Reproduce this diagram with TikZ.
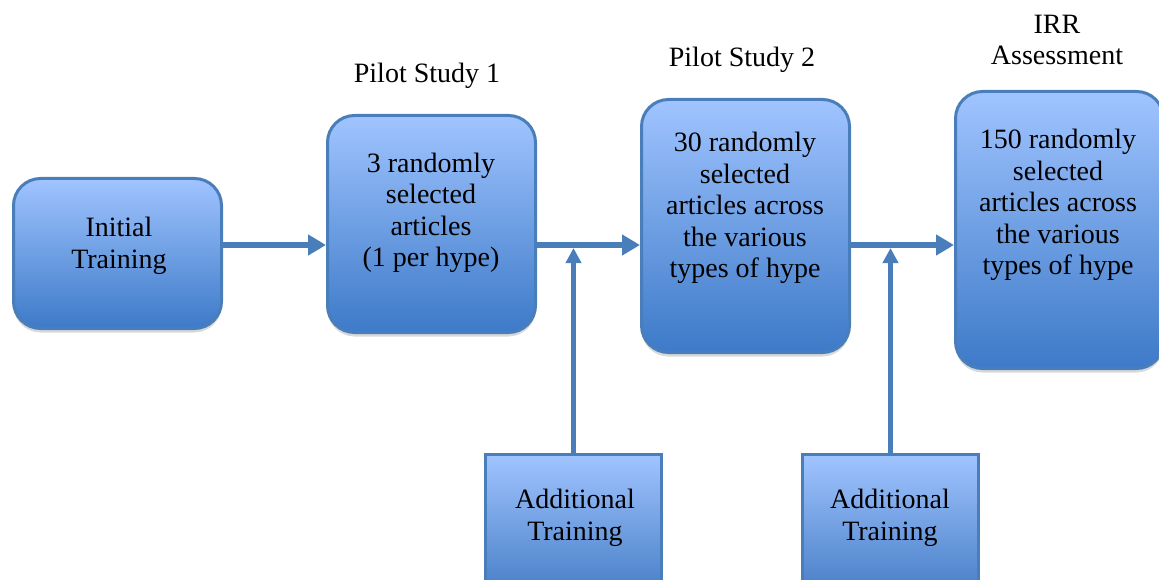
\documentclass[tikz,border=0pt]{standalone}
\usepackage{fontspec}
\setmainfont{Liberation Serif}
\usepackage{xcolor}
\usepackage{tikz}
\usetikzlibrary{arrows.meta, positioning, shadows}
\definecolor{boxline}{HTML}{4A7EBB}
\definecolor{boxtop}{HTML}{A0C4FF}
\definecolor{boxbot}{HTML}{3D7AC8}

\begin{document}
\begin{tikzpicture}[
  x=1pt, y=-1pt,
  font=\fontsize{28}{31.5}\selectfont,
  rbox/.style={rectangle, rounded corners=27pt, draw=boxline, line width=3pt,
               top color=boxtop, bottom color=boxbot, minimum width=208pt,
               drop shadow={opacity=0.3, shadow xshift=0pt, shadow yshift=-4pt}},
  sbox/.style={rectangle, draw=boxline, line width=3pt,
               top color=boxtop, bottom color=boxbot!95!black,
               minimum width=176pt, minimum height=160pt},
  txt/.style={align=center, inner sep=0pt},
  arrow/.style={-{Triangle[length=18pt, width=20pt]}, line width=6pt, color=boxline},
  uparrow/.style={-{Triangle[length=15pt, width=15pt]}, line width=4.5pt, color=boxline},
]
\useasboundingbox (0,0) rectangle (1159,580);

% main row
\node[rbox, minimum height=150pt] (init) at (117.5,253.5) {};
\node[rbox, minimum height=217pt] (pilot1) at (431.5,224) {};
\node[rbox, minimum height=253pt] (pilot2) at (745.5,226) {};
\node[rbox, minimum height=277pt] (irr) at (1059.5,230) {};

\node[txt] (initT) at (119,246) {Initial\\Training};
\node[txt] (pilot1T) at (431,213) {3 randomly\\selected\\articles\\(1 per hype)};
\node[txt] (pilot2T) at (745,208) {30 randomly\\selected\\articles across\\the various\\types of hype};
\node[txt] (irrT) at (1058,205) {150 randomly\\selected\\articles across\\the various\\types of hype};

% titles above
\node[txt] (pilot1L) at (427,76) {Pilot Study 1};
\node[txt] (pilot2L) at (742,60) {Pilot Study 2};
\node[txt] (irrL) at (1057,40) {IRR\\Assessment};

% training boxes
\node[sbox] (add1) at (573.5,534.5) {};
\node[sbox] (add2) at (890.5,534.5) {};
\node[txt] (add1T) at (575,518) {Additional\\Training};
\node[txt] (add2T) at (890,518) {Additional\\Training};

\coordinate (row) at (0,245);
\coordinate (join) at (0,248);

\draw[arrow] (init.east |- row) -- (pilot1.west |- row);
\draw[arrow] (pilot1.east |- row) -- (pilot2.west |- row);
\draw[arrow] (pilot2.east |- row) -- (irr.west |- row);
\draw[uparrow] (add1.north) -- (add1.north |- join);
\draw[uparrow] (add2.north) -- (add2.north |- join);
\end{tikzpicture}
\end{document}
